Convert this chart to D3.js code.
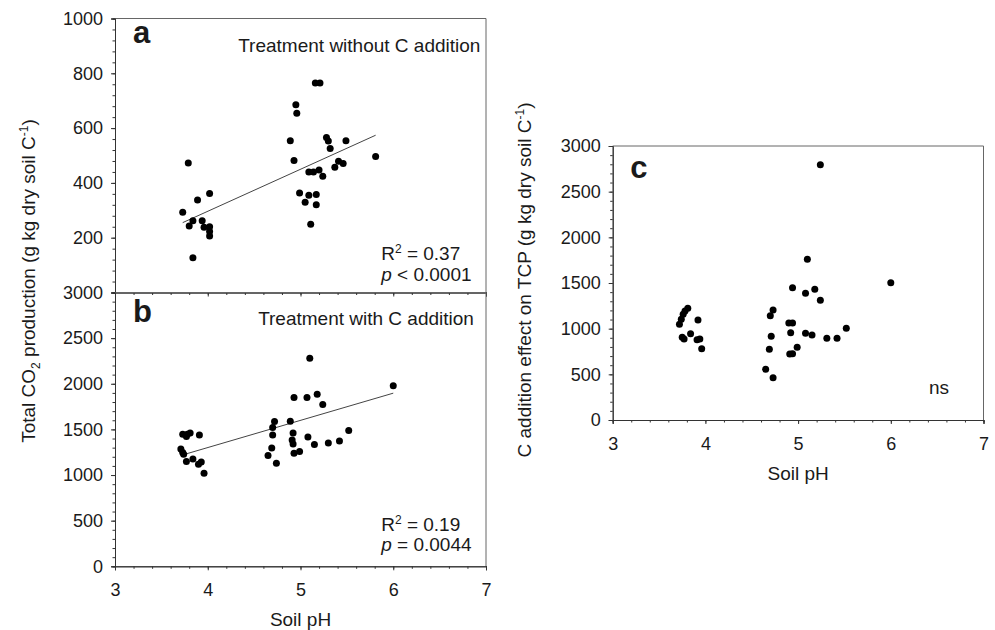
<!DOCTYPE html>
<html>
<head>
<meta charset="utf-8">
<script src="https://cdn.jsdelivr.net/npm/d3@7"></script>
<style>
  html, body { margin: 0; padding: 0; background: #fff; }
  svg text { font-family: "Liberation Sans", Arial, sans-serif; fill: #1a1a1a; }
</style>
</head>
<body>
<svg id="chart" width="995" height="630"></svg>
<script>
// ---------- DATA ----------
// Panel a: Treatment without C addition
const phA  = [3.73,3.79,3.80,3.84,3.84,3.89,3.94,3.96,4.02,4.02,4.02,4.02,
              4.89,4.93,4.95,4.96,4.99,5.05,5.09,5.09,5.11,5.14,5.16,5.21,5.17,5.17,
              5.20,5.24,5.28,5.30,5.32,5.37,5.41,5.46,5.49,5.81];
const valA = [293,473,243,262,127,338,262,238,361,240,223,206,
              554,482,685,654,363,329,355,440,249,440,765,765,358,320,
              447,424,566,553,526,457,479,471,554,496];
const fitA = [[3.73,255],[5.81,574]];

// Panel b: Treatment with C addition
const phB  = [3.71,3.73,3.74,3.77,3.73,3.77,3.78,3.81,3.84,3.91,3.90,3.93,3.96,
              4.65,4.69,4.70,4.70,4.72,4.74,4.89,4.91,4.92,4.92,4.93,4.93,4.99,
              5.07,5.08,5.10,5.15,5.18,5.24,5.30,5.42,5.52,6.00];
const valB = [1286,1246,1228,1147,1447,1422,1447,1461,1176,1440,1118,1144,1019,
              1213,1297,1520,1440,1586,1129,1590,1385,1341,1461,1849,1239,1257,
              1849,1418,2280,1334,1886,1772,1352,1374,1487,1977];
const fitB = [[3.755,1228],[6.00,1897]];

// Panel c: C addition effect on TCP
const phC  = [3.72,3.74,3.76,3.78,3.81,3.75,3.77,3.84,3.92,3.91,3.94,3.96,
              4.65,4.73,4.69,4.71,4.70,4.73,4.90,4.94,4.92,4.91,4.94,4.99,
              4.94,5.08,5.10,5.08,5.15,5.18,5.24,5.24,5.31,5.42,5.52,6.00];
const valC = [1047,1102,1157,1193,1223,905,887,945,1095,880,887,781,
              555,463,774,916,1142,1204,1062,1062,956,723,726,796,
              1449,1387,1759,949,931,1431,2796,1310,894,894,1004,1504];

const xTicks   = [3,4,5,6,7];
const yTicksA  = [200,400,600,800,1000];
const yTicksB  = [0,500,1000,1500,2000,2500,3000];
const yTicksC  = [0,500,1000,1500,2000,2500,3000];

// ---------- LAYOUT ----------
const svg = d3.select("#chart");
const AX = "#333", FR = "#666";
const FS = 18, FT = 19;

const xAB = d3.scaleLinear().domain([3,7]).range([115,486]);
const yA  = d3.scaleLinear().domain([0,1000]).range([292.5,18.5]);
const yB  = d3.scaleLinear().domain([0,3000]).range([566.3,292.5]);
const xC  = d3.scaleLinear().domain([3,7]).range([612.7,983.5]);
const yC  = d3.scaleLinear().domain([0,3000]).range([420,146]);

function frame(x, y) {
  const [x0,x1] = x.range(), [y0,y1] = y.range();
  svg.append("path")
    .attr("d", `M${x0},${y1}H${x1}V${y0}`)
    .attr("fill","none").attr("stroke",FR).attr("stroke-width",1);
}

function styleAxis(g) {
  g.select(".domain").attr("stroke",AX);
  g.selectAll(".tick line").attr("stroke",AX);
  g.selectAll(".tick text").attr("font-size",FS).attr("fill","#1a1a1a")
    .style("font-family",'"Liberation Sans", Arial, sans-serif');
}

function xAxis(x, y, showLabels) {
  const y0 = y.range()[0];
  const minor = d3.range(3,7.001,0.2);
  svg.append("g").attr("transform",`translate(0,${y0})`)
    .call(d3.axisBottom(x).tickValues(minor).tickSize(2.5).tickFormat(""))
    .call(styleAxis);
  svg.append("g").attr("transform",`translate(0,${y0})`)
    .call(d3.axisBottom(x).tickValues(xTicks).tickSize(4).tickPadding(13)
      .tickFormat(showLabels ? d3.format("d") : ""))
    .call(styleAxis);
}

function yAxis(x, y, ticks, minorStep, labelTicks) {
  const x0 = x.range()[0];
  const [d0,d1] = y.domain();
  svg.append("g").attr("transform",`translate(${x0},0)`)
    .call(d3.axisLeft(y).tickValues(d3.range(d0,d1+0.001,minorStep)).tickSize(2.5).tickFormat(""))
    .call(styleAxis);
  svg.append("g").attr("transform",`translate(${x0},0)`)
    .call(d3.axisLeft(y).tickValues(ticks).tickSize(4).tickPadding(8)
      .tickFormat(d => labelTicks.includes(d) ? d : ""))
    .call(styleAxis);
}

function points(x, y, xs, ys) {
  svg.append("g").selectAll("circle")
    .data(xs.map((d,i) => [d, ys[i]]))
    .join("circle")
    .attr("cx", d => x(d[0])).attr("cy", d => y(d[1]))
    .attr("r", 3.5).attr("fill", "#000");
}

function fitLine(x, y, seg) {
  svg.append("path")
    .attr("d", d3.line().x(d => x(d[0])).y(d => y(d[1]))(seg))
    .attr("fill","none").attr("stroke","#444").attr("stroke-width",1);
}

function text(xp, yp, str, opts = {}) {
  return svg.append("text").attr("x", xp).attr("y", yp)
    .attr("font-size", opts.size || FT)
    .attr("font-weight", opts.weight || "normal")
    .attr("text-anchor", opts.anchor || "start")
    .text(str);
}

// Panel a
frame(xAB, yA);
xAxis(xAB, yA, false);
yAxis(xAB, yA, yTicksA, 40, yTicksA);
fitLine(xAB, yA, fitA);
points(xAB, yA, phA, valA);

// Panel b
frame(xAB, yB);
xAxis(xAB, yB, true);
yAxis(xAB, yB, yTicksB, 100, yTicksB);
fitLine(xAB, yB, fitB);
points(xAB, yB, phB, valB);

// Panel c
frame(xC, yC);
xAxis(xC, yC, true);
yAxis(xC, yC, yTicksC, 100, yTicksC);
points(xC, yC, phC, valC);

// Panel letters & annotations
text(xAB(3.195), yA(910), "a", {size:31, weight:"bold"});
text(xAB(6.94), yA(876), "Treatment without C addition", {anchor:"end"});
const r2a = text(xAB(5.87), yA(120), "R");
r2a.append("tspan").attr("dy",-7).attr("font-size",12).text("2");
r2a.append("tspan").attr("dy",7).text(" = 0.37");
const pa = svg.append("text").attr("x", xAB(5.87)).attr("y", yA(43)).attr("font-size",FT);
pa.append("tspan").attr("font-style","italic").text("p");
pa.append("tspan").text(" < 0.0001");

text(xAB(3.195), yB(2680), "b", {size:31, weight:"bold"});
text(xAB(6.87), yB(2640), "Treatment with C addition", {anchor:"end"});
const r2b = text(xAB(5.87), yB(390), "R");
r2b.append("tspan").attr("dy",-7).attr("font-size",12).text("2");
r2b.append("tspan").attr("dy",7).text(" = 0.19");
const pb = svg.append("text").attr("x", xAB(5.87)).attr("y", yB(170)).attr("font-size",FT);
pb.append("tspan").attr("font-style","italic").text("p");
pb.append("tspan").text(" = 0.0044");

text(xC(3.19), yC(2650), "c", {size:31, weight:"bold"});
text(xC(6.52), yC(285), "ns", {anchor:"middle"});

// Axis titles
text(xAB(5), 626, "Soil pH", {anchor:"middle"});
text(xC(5), 480, "Soil pH", {anchor:"middle"});

const yl1 = svg.append("text").attr("transform","translate(35,281) rotate(-90)")
  .attr("text-anchor","middle").attr("font-size",FT);
yl1.append("tspan").text("Total CO");
yl1.append("tspan").attr("dy",5).attr("font-size",12).text("2");
yl1.append("tspan").attr("dy",-5).text(" production (g kg dry soil C");
yl1.append("tspan").attr("dy",-7).attr("font-size",12).text("-1");
yl1.append("tspan").attr("dy",7).text(")");

const yl2 = svg.append("text").attr("transform","translate(531,280) rotate(-90)")
  .attr("text-anchor","middle").attr("font-size",FT);
yl2.append("tspan").text("C addition effect on TCP (g kg dry soil C");
yl2.append("tspan").attr("dy",-7).attr("font-size",12).text("-1");
yl2.append("tspan").attr("dy",7).text(")");
</script>
</body>
</html>
